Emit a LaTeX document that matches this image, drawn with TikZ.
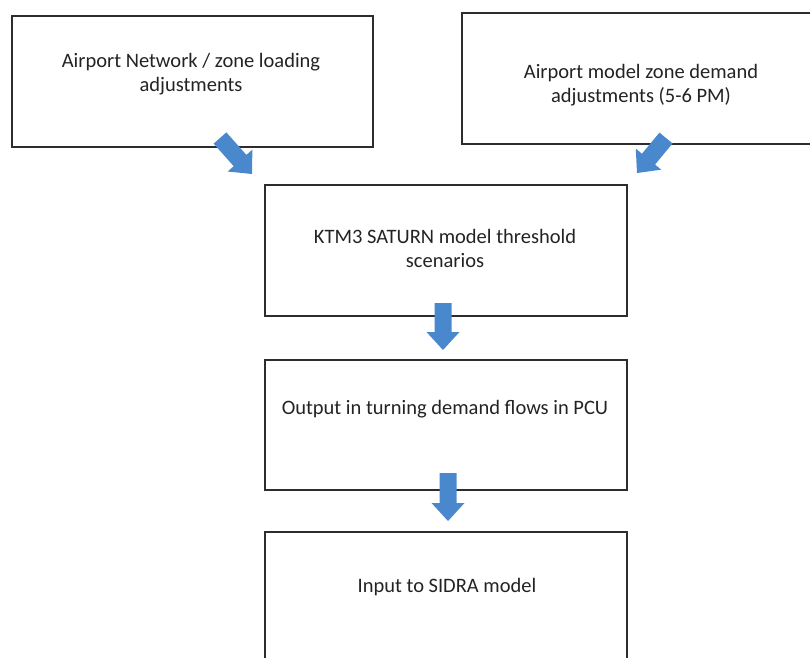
\documentclass[tikz,border=0pt]{standalone}
\usepackage{fontspec}
\setmainfont{Carlito}
\usetikzlibrary{calc}
\definecolor{arrowblue}{RGB}{74,136,206}
\definecolor{boxline}{RGB}{45,45,45}
\definecolor{txt}{RGB}{35,35,35}
\newcommand{\drawblockarrow}[3]{% name, start, tip
  \coordinate (#1h) at ($(#3)!18pt!(#2)$);
  \fill[arrowblue] ($(#2)!8.5pt!90:(#3)$) -- ($(#1h)!8.5pt!90:(#3)$) -- ($(#1h)!16.5pt!90:(#3)$) -- (#3)
    -- ($(#1h)!16.5pt!-90:(#3)$) -- ($(#1h)!8.5pt!-90:(#3)$) -- ($(#2)!8.5pt!-90:(#3)$) -- cycle;}
\begin{document}
\begin{tikzpicture}[x=1pt,y=-1pt,
  box/.style={draw=boxline, line width=1.6pt, inner sep=0pt, anchor=north west},
  lbl/.style={font=\fontsize{20.5}{24}\selectfont, text=txt, align=center, inner sep=0pt}]
\useasboundingbox (0,0) rectangle (810,657);
\clip (0,0) rectangle (810,657);
% boxes
\node[box, minimum width=361pt, minimum height=131pt] (A) at (11,15) {};
\node[box, minimum width=360pt, minimum height=131pt] (B) at (461,12) {};
\node[box, minimum width=362pt, minimum height=131pt] (C) at (264,184) {};
\node[box, minimum width=362pt, minimum height=130pt] (D) at (264,359) {};
\node[box, minimum width=362pt, minimum height=160pt] (E) at (264,531) {};
% labels
\node[lbl] (tA) at (191,74) {Airport Network / zone loading\\adjustments};
\node[lbl] (tB) at (641,85.5) {Airport model zone demand\\adjustments (5-6 PM)};
\node[lbl] (tC) at (445,248.5) {KTM3 SATURN model threshold\\scenarios};
\node[lbl] (tD) at (445,409) {Output in turning demand flows in PCU};
\node[lbl] (tE) at (447,587) {Input to SIDRA model};
% block arrows
\coordinate (s1) at (220,138); \coordinate (e1) at (252,174);
\coordinate (s2) at (666,138); \coordinate (e2) at (637,173);
\coordinate (s3) at (443,303); \coordinate (e3) at (443,350);
\coordinate (s4) at (448,473); \coordinate (e4) at (448,521);
\drawblockarrow{a1}{s1}{e1}
\drawblockarrow{a2}{s2}{e2}
\drawblockarrow{a3}{s3}{e3}
\drawblockarrow{a4}{s4}{e4}
\end{tikzpicture}
\end{document}
